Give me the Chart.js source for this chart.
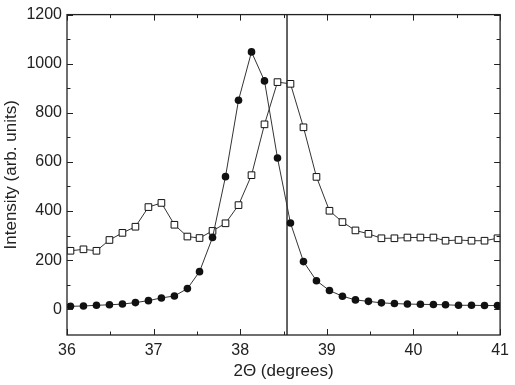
<!DOCTYPE html>
<html>
<head>
<meta charset="utf-8">
<script src="https://cdn.jsdelivr.net/npm/chart.js@4"></script>
<style>
  html, body { margin: 0; padding: 0; background: #fff; }
  #box { width: 515px; height: 385px; }
</style>
</head>
<body>
<div id="box"><canvas id="xrd"></canvas></div>
<script>
// 2-theta positions (degrees), shared by both series
const twoTheta = [36.04, 36.19, 36.34, 36.49, 36.64, 36.79, 36.94, 37.09, 37.24, 37.39,
  37.53, 37.68, 37.83, 37.98, 38.13, 38.28, 38.43, 38.58, 38.73, 38.88,
  39.03, 39.18, 39.33, 39.48, 39.63, 39.78, 39.93, 40.08, 40.23, 40.37,
  40.52, 40.67, 40.82, 40.97];
// filled circles
const filled = [12, 13, 16, 18, 21, 27, 35, 46, 54, 84,
  153, 292, 540, 851, 1048, 930, 616, 351, 194, 116,
  76, 53, 38, 32, 26, 23, 21, 20, 19, 18,
  16, 16, 15, 15];
// open squares
const open = [238, 244, 238, 282, 311, 336, 416, 433, 344, 296,
  290, 319, 350, 424, 546, 753, 925, 918, 741, 539,
  401, 355, 321, 307, 289, 289, 292, 292, 292, 279,
  282, 279, 279, 289];
const markerLine = 38.54;
const xTicks = [36, 36.5, 37, 37.5, 38, 38.5, 39, 39.5, 40, 40.5, 41];
const yTicks = [0, 100, 200, 300, 400, 500, 600, 700, 800, 900, 1000, 1100, 1200];

const txt = '#222';
const fontName = "'Liberation Sans', Arial, sans-serif";

// frame with inward ticks on all four sides
const rahmen = {
  id: 'rahmen',
  afterDraw(chart) {
    const { ctx, chartArea: a, scales: { x, y } } = chart;
    ctx.save();
    ctx.strokeStyle = txt;
    ctx.lineWidth = 1.3;
    ctx.strokeRect(a.left, a.top, a.right - a.left, a.bottom - a.top);
    ctx.lineWidth = 1;
    ctx.beginPath();
    xTicks.forEach(v => {
      const px = Math.round(x.getPixelForValue(v)) + 0.5;
      const len = Number.isInteger(v) ? 6 : 3.5;
      ctx.moveTo(px, a.bottom); ctx.lineTo(px, a.bottom - len);
      ctx.moveTo(px, a.top); ctx.lineTo(px, a.top + len);
    });
    yTicks.forEach(v => {
      const py = Math.round(y.getPixelForValue(v)) + 0.5;
      const len = v % 200 === 0 ? 6 : 3.5;
      ctx.moveTo(a.left, py); ctx.lineTo(a.left + len, py);
      ctx.moveTo(a.right, py); ctx.lineTo(a.right - len, py);
    });
    ctx.stroke();
    ctx.restore();
  }
};

new Chart(document.getElementById('xrd').getContext('2d'), {
  type: 'line',
  data: {
    datasets: [{
      data: twoTheta.map((t, i) => ({ x: t, y: filled[i] })),
      borderColor: '#333',
      borderWidth: 1,
      pointStyle: 'circle',
      pointRadius: 3.8,
      pointBackgroundColor: '#111',
      pointBorderColor: '#111',
      pointBorderWidth: 0
    }, {
      data: twoTheta.map((t, i) => ({ x: t, y: open[i] })),
      borderColor: '#333',
      borderWidth: 1,
      pointStyle: 'rect',
      pointRadius: 4.7,
      pointBackgroundColor: '#fff',
      pointBorderColor: '#111',
      pointBorderWidth: 1
    }, {
      data: [{ x: markerLine, y: -105 }, { x: markerLine, y: 1200 }],
      borderColor: '#111',
      borderWidth: 1.3,
      pointRadius: 0
    }]
  },
  options: {
    responsive: true,
    maintainAspectRatio: false,
    animation: false,
    layout: { padding: { left: 0, top: 13, right: 13, bottom: 0 } },
    plugins: { legend: { display: false }, tooltip: { enabled: false } },
    scales: {
      x: {
        type: 'linear',
        min: 36, max: 41,
        afterBuildTicks: s => { s.ticks = xTicks.filter(Number.isInteger).map(v => ({ value: v })); },
        afterFit: s => { s.height = 50; },
        grid: { display: false, drawTicks: false },
        border: { display: false },
        ticks: { color: txt, padding: 6, font: { family: fontName, size: 16 }, maxRotation: 0, callback: v => String(v) },
        title: { display: true, text: '2Θ (degrees)', color: txt, font: { family: fontName, size: 17 }, padding: { top: 0, bottom: 3 } }
      },
      y: {
        min: -105, max: 1200,
        afterBuildTicks: s => { s.ticks = yTicks.filter(v => v % 200 === 0).map(v => ({ value: v })); },
        afterFit: s => { s.width = 67; },
        grid: { display: false, drawTicks: false },
        border: { display: false },
        ticks: { color: txt, padding: 5, font: { family: fontName, size: 16 }, callback: v => String(v) },
        title: { display: true, text: 'Intensity (arb. units)', color: txt, font: { family: fontName, size: 17 }, padding: { top: 1, bottom: 0 } }
      }
    }
  },
  plugins: [rahmen]
});
</script>
</body>
</html>
